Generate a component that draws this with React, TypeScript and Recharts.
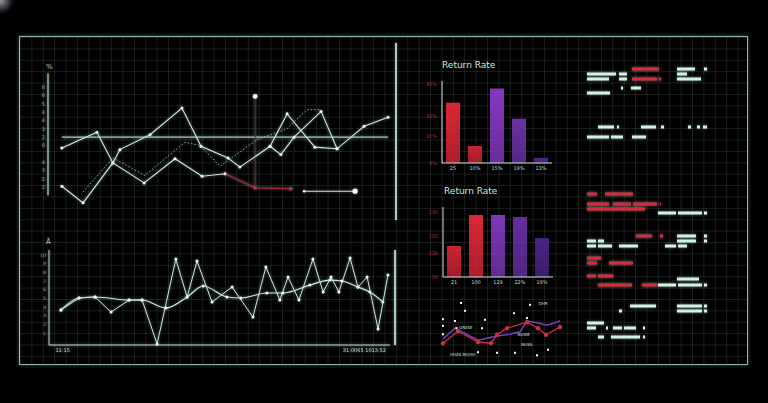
import React from "react";
import {
  LineChart,
  Line,
  XAxis,
  YAxis,
  ReferenceLine,
  ReferenceDot,
  BarChart,
  Bar,
  Cell,
  ComposedChart,
  Scatter,
} from "recharts";

// ---- upper trend panel (x: % of span, y: tick units) ----
const upperTicks = [3, 4, 5, 6, 8, 9, 10, 11, 12, 13, 14, 15];
const upperTickLabels = ["2", "2", "3", "4", "8", "2", "3", "4", "4", "5", "6", "8"];

const upperAX = [4.0, 14.1, 18.7, 27.7, 36.6, 44.4, 51.0];
const upperAY = [7.7, 9.6, 5.9, 3.5, 6.4, 4.3, 4.6];
const upperRedX = [51.0, 59.7, 70.0];
const upperRedY = [4.6, 2.9, 2.8];
const upperBX = [4.0, 10.1, 18.7, 20.7, 29.4, 38.6, 44.1, 51.9, 55.3, 64.0, 68.9, 76.9, 83.3, 91.1, 98.0];
const upperBY = [3.1, 1.1, 5.9, 7.5, 9.3, 12.5, 7.9, 6.5, 5.4, 7.9, 11.8, 7.8, 7.6, 10.3, 11.4];
const upperCX = [64.0, 67.1, 70.9, 78.7, 83.3];
const upperCY = [7.9, 6.9, 9.0, 12.1, 7.6];
const upperDotX = [10.1, 18.7, 27.9, 39.5, 43.8, 49.6, 60.2, 68.9, 74.6, 78.4];
const upperDotY = [2.4, 6.5, 4.4, 8.4, 8.0, 5.5, 8.7, 10.0, 12.3, 12.3];
const upperTailX = [73.8, 88.5];
const upperTailY = [2.5, 2.5];
const upperBaseline = 9.0;
const upperMarkerX = 59.7;
const upperMarkerTop = 13.9;

// ---- lower trend panel ----
const lowerTicks = [1, 2, 3, 4, 5, 6, 7, 8, 9, 10];
const lowerXTicks = [4, 92.5];
const lowerXLabels = ["11:15", "31:0065 1013:52"];
const lowerJagX = [3.5, 8.8, 13.5, 18.2, 23.5, 27.3, 31.7, 37.2, 40.5, 43.4, 47.8, 53.7, 59.8, 63.6, 67.7, 70.1, 73.3, 77.4, 80.4, 82.7, 85.0, 88.3, 90.6, 93.3, 96.5, 99.4];
const lowerJagY = [3.65, 5.04, 5.16, 3.42, 4.81, 4.81, -0.28, 9.55, 5.16, 9.32, 4.58, 6.31, 2.84, 8.63, 4.81, 7.47, 4.81, 9.55, 5.73, 7.47, 5.73, 9.67, 6.31, 7.47, 1.45, 7.7];
const lowerSmoothX = [3.5, 8.8, 13.5, 23.5, 27.3, 34.3, 40.5, 45.2, 52.2, 56.3, 63.9, 68.6, 76.5, 82.4, 85.9, 90.6, 94.1, 97.9];
const lowerSmoothY = [3.65, 5.04, 5.16, 4.81, 4.81, 3.88, 5.16, 6.43, 5.16, 5.04, 5.62, 5.62, 6.54, 7.12, 7.01, 6.31, 5.73, 4.58];

// ---- return rate bars ----
const rate1Labels = ["25", "10%", "15%", "19%", "13%"];
const rate1Values = [29.4, 8.3, 36.3, 21.6, 2.5];
const rate1Colors = ["#dc2636", "#c92433", "#8638c2", "#6a31a6", "#54288a"];
const rate1Ticks = [0, 13, 23, 38.5];
const rate1TickLabels = ["0%", "20%", "30%", "40%"];

const rate2Labels = ["21", "100", "129", "22%", "19%"];
const rate2Values = [62, 124, 124, 120, 78];
const rate2Colors = ["#cc2432", "#dc2638", "#7b38ba", "#662ea2", "#4a2484"];
const rate2Ticks = [0, 48, 82, 130];
const rate2TickLabels = ["50", "120", "100", "130"];

// ---- mini scatter/line panel ----
const miniRedX = [2.4, 14.4, 30.4, 40.8, 45.6, 53.6, 69.6, 78.4, 84.8, 96];
const miniRedY = [2.8, 4.8, 3.0, 2.8, 4.2, 5.3, 6.3, 5.3, 4.2, 5.5];
const miniPurpleX = [2.4, 12, 30.4, 45.6, 56, 64, 69.6, 77.6, 85.6, 96];
const miniPurpleY = [3.5, 5.3, 3.3, 4.0, 4.3, 4.7, 6.5, 6.2, 5.8, 6.5];
const miniDotX = [2.4, 2.4, 2.4, 20, 12, 36, 33.6, 59.2, 69.6, 72, 30.4, 45.6, 60, 77.6, 86.4, 16.8];
const miniDotY = [6.8, 5.7, 4.3, 8.2, 6.5, 6.7, 5.3, 7.8, 7.0, 9.2, 1.3, 1.2, 1.2, 0.8, 1.7, 9.5];
const miniNotes = ["▪ ORASE", "NUSM", "NUSS", "HHAS MOHH", "DHR"];
const miniNoteX = [12, 62, 65, 8, 79];
const miniNoteY = [5.3, 4.2, 2.5, 0.8, 9.3];

// ---- coded readout rows: [line, from, to] ----
const readoutMint = [
  [9, 97, 115], [9, 124, 127],
  [14, 7, 36], [14, 39, 47], [14, 97, 107],
  [19, 7, 29], [19, 39, 47], [19, 97, 121],
  [28, 41, 43], [28, 51, 61],
  [33, 7, 30],
  [67, 18, 34], [67, 37, 39], [67, 61, 76], [67, 81, 84], [67, 108, 111], [67, 117, 120], [67, 123, 127],
  [77, 7, 29], [77, 31, 43], [77, 52, 66],
  [153, 78, 96], [153, 98, 122], [153, 124, 127],
  [176, 97, 116], [176, 124, 127],
  [181, 7, 16], [181, 18, 24], [181, 97, 116], [181, 124, 127],
  [186, 7, 16], [186, 18, 32], [186, 39, 58], [186, 85, 96], [186, 98, 107],
  [219, 97, 119],
  [225, 78, 96], [225, 98, 122], [225, 124, 127],
  [246, 50, 76], [246, 97, 122], [246, 124, 127],
  [251, 39, 42], [251, 97, 122], [251, 124, 127],
  [263, 7, 24],
  [268, 7, 16], [268, 26, 28], [268, 33, 42], [268, 44, 56], [268, 63, 65],
  [277, 18, 24], [277, 31, 60], [277, 63, 65],
];
const readoutRed = [
  [9, 52, 79],
  [19, 52, 77], [19, 79, 81],
  [134, 7, 17], [134, 25, 53],
  [144, 7, 29], [144, 33, 51], [144, 53, 77], [144, 80, 81],
  [149, 7, 65],
  [176, 56, 72], [176, 80, 83],
  [198, 7, 21],
  [203, 7, 17], [203, 29, 53],
  [216, 7, 16], [216, 18, 33],
  [225, 18, 52], [225, 62, 77],
];

const MINT = "#cde9dc";
const AXIS = "#b9d6c8";
const RED = "#dc283a";
const GLOW = "drop-shadow(0 0 1.5px rgba(200,255,230,0.5))";

const pts = (xs: number[], ys: number[]) => xs.map((x, i) => ({ x, y: ys[i] }));
const bars = (labels: string[], values: number[]) => labels.map((name, i) => ({ name, v: values[i] }));

const abs = (left: number, top: number, extra: React.CSSProperties = {}): React.CSSProperties => ({
  position: "absolute",
  left,
  top,
  ...extra,
});

const lineDot = { r: 1.5, fill: "#eefcf5", stroke: "none" };

function UpperPanel() {
  return (
    <div style={abs(34, 54, { filter: GLOW })}>
      <LineChart width={361} height={158} margin={{ top: 0, right: 0, bottom: 0, left: 0 }}>
        <XAxis type="number" dataKey="x" domain={[0, 100]} hide />
        <YAxis
          type="number"
          dataKey="y"
          domain={[0, 19]}
          width={14}
          ticks={upperTicks}
          interval={0}
          axisLine={false}
          tickLine={false}
          tickSize={0}
          tickMargin={3}
          tick={{ fontSize: 5, fill: "#7f9289", fontFamily: "DejaVu Sans" }}
          tickFormatter={(v: number) => upperTickLabels[upperTicks.indexOf(v)] ?? ""}
        />
        <ReferenceLine segment={[{ x: 0, y: 2 }, { x: 0, y: 16.7 }]} stroke={AXIS} strokeWidth={1.2} />
        <ReferenceLine segment={[{ x: 4, y: upperBaseline }, { x: 98, y: upperBaseline }]} stroke="#a3ccb9" strokeWidth={1.2} />
        <ReferenceLine
          segment={[{ x: upperMarkerX, y: 2.9 }, { x: upperMarkerX, y: upperMarkerTop }]}
          stroke="#5c2a3a"
          strokeWidth={1}
        />
        <Line data={pts(upperDotX, upperDotY)} dataKey="y" stroke="#86a99a" strokeWidth={1} strokeDasharray="1.5 2" dot={false} isAnimationActive={false} />
        <Line data={pts(upperRedX, upperRedY)} dataKey="y" stroke="#a8263c" strokeWidth={1.2} dot={{ r: 1.6, fill: "#d43048", stroke: "none" }} isAnimationActive={false} />
        <Line data={pts(upperAX, upperAY)} dataKey="y" stroke={MINT} strokeWidth={1.1} dot={lineDot} isAnimationActive={false} />
        <Line data={pts(upperBX, upperBY)} dataKey="y" stroke={MINT} strokeWidth={1.1} dot={lineDot} isAnimationActive={false} />
        <Line data={pts(upperCX, upperCY)} dataKey="y" stroke={MINT} strokeWidth={1.1} dot={lineDot} isAnimationActive={false} />
        <Line
          data={pts(upperTailX, upperTailY)}
          dataKey="y"
          stroke={MINT}
          strokeWidth={1.1}
          dot={(p: any) => <circle key={p.index} cx={p.cx} cy={p.cy} r={p.index === 1 ? 2.6 : 1.3} fill="#eefcf5" />}
          isAnimationActive={false}
        />
        <ReferenceDot x={upperMarkerX} y={upperMarkerTop} r={2.4} fill="#ffffff" stroke="none" />
      </LineChart>
    </div>
  );
}

function LowerPanel() {
  return (
    <div style={abs(37, 250, { filter: GLOW })}>
      <LineChart width={353} height={107} margin={{ top: 0, right: 0, bottom: 0, left: 0 }}>
        <XAxis
          type="number"
          dataKey="x"
          domain={[0, 100]}
          height={12}
          ticks={lowerXTicks}
          interval={0}
          stroke={AXIS}
          tickLine={false}
          tickSize={0}
          tickMargin={3}
          tick={{ fontSize: 5, fill: "#c2d4cb", fontFamily: "DejaVu Sans" }}
          tickFormatter={(v: number) => lowerXLabels[lowerXTicks.indexOf(v)] ?? ""}
        />
        <YAxis
          type="number"
          dataKey="y"
          domain={[-0.4, 10.6]}
          width={12}
          ticks={lowerTicks}
          interval={0}
          stroke={AXIS}
          tickLine={false}
          tickSize={0}
          tickMargin={3}
          tick={{ fontSize: 4.5, fill: "#7f9289", fontFamily: "DejaVu Sans" }}
        />
        <Line data={pts(lowerSmoothX, lowerSmoothY)} type="monotone" dataKey="y" stroke={MINT} strokeWidth={1.2} dot={lineDot} isAnimationActive={false} />
        <Line data={pts(lowerJagX, lowerJagY)} dataKey="y" stroke={MINT} strokeWidth={1} dot={lineDot} isAnimationActive={false} />
      </LineChart>
    </div>
  );
}

function RatePanel(props: {
  id: string;
  left: number;
  top: number;
  height: number;
  max: number;
  labels: string[];
  values: number[];
  colors: string[];
  ticks: number[];
  tickLabels: string[];
}) {
  const { id, left, top, height, max, labels, values, colors, ticks, tickLabels } = props;
  return (
    <div style={abs(left, top)}>
      <BarChart width={130} height={height} data={bars(labels, values)} margin={{ top: 0, right: 0, bottom: 0, left: 0 }} barSize={14}>
        <defs>
          {colors.map((c, i) => (
            <linearGradient key={i} id={`${id}-g${i}`} x1="0" y1="0" x2="0" y2="1">
              <stop offset="0%" stopColor={c} stopOpacity={1} />
              <stop offset="100%" stopColor={c} stopOpacity={0.78} />
            </linearGradient>
          ))}
        </defs>
        <XAxis
          dataKey="name"
          height={10}
          stroke="#cfe0d7"
          tickLine={false}
          tickSize={0}
          tickMargin={3}
          interval={0}
          tick={{ fontSize: 5, fill: "#c6d3cd", fontFamily: "DejaVu Sans" }}
        />
        <YAxis
          type="number"
          domain={[0, max]}
          width={20}
          ticks={ticks}
          interval={0}
          stroke="#cfe0d7"
          tickLine={false}
          tickSize={0}
          tickMargin={5}
          tick={{ fontSize: 5, fill: "#b0283a", fontFamily: "DejaVu Sans" }}
          tickFormatter={(v: number) => tickLabels[ticks.indexOf(v)] ?? ""}
        />
        <Bar dataKey="v" isAnimationActive={false}>
          {values.map((_, i) => (
            <Cell key={i} fill={`url(#${id}-g${i})`} />
          ))}
        </Bar>
      </BarChart>
    </div>
  );
}

function MiniPanel() {
  return (
    <div style={abs(440, 300)}>
      <ComposedChart width={125} height={60} margin={{ top: 0, right: 0, bottom: 0, left: 0 }}>
        <XAxis type="number" dataKey="x" domain={[0, 100]} hide />
        <YAxis type="number" dataKey="y" domain={[0, 10]} hide />
        <Line data={pts(miniPurpleX, miniPurpleY)} dataKey="y" stroke="#7440c8" strokeWidth={1.5} dot={false} isAnimationActive={false} />
        <Line data={pts(miniRedX, miniRedY)} dataKey="y" stroke="#d02e46" strokeWidth={1.3} dot={{ r: 2.2, fill: "#d02e46", stroke: "none" }} isAnimationActive={false} />
        <Scatter
          data={pts(miniDotX, miniDotY)}
          isAnimationActive={false}
          shape={(p: any) => <rect x={p.cx - 1} y={p.cy - 1} width={2} height={2} fill="#e8fff4" />}
        />
        <Scatter
          data={miniNotes.map((t, i) => ({ x: miniNoteX[i], y: miniNoteY[i], t }))}
          isAnimationActive={false}
          shape={(p: any) => (
            <text x={p.cx} y={p.cy} fontSize={4} fill="#cfe6da" fontFamily="DejaVu Sans" dominantBaseline="middle">
              {p.payload.t}
            </text>
          )}
        />
      </ComposedChart>
    </div>
  );
}

function ReadoutPanel() {
  const seg = (rows: number[][], color: string, tag: string) =>
    rows.map(([y, a, b], i) => (
      <Line
        key={tag + i}
        data={[{ x: a, y }, { x: b, y }]}
        dataKey="y"
        stroke={color}
        strokeWidth={3}
        strokeLinecap="butt"
        dot={false}
        isAnimationActive={false}
      />
    ));
  return (
    <div style={abs(580, 60, { filter: GLOW })}>
      <LineChart width={130} height={300} margin={{ top: 0, right: 0, bottom: 0, left: 0 }}>
        <XAxis type="number" dataKey="x" domain={[0, 130]} hide />
        <YAxis type="number" dataKey="y" domain={[0, 300]} reversed hide />
        {seg(readoutRed, RED, "r")}
        {seg(readoutMint, "#d4f2e3", "m")}
      </LineChart>
    </div>
  );
}

export default function App() {
  const title: React.CSSProperties = {
    fontFamily: "DejaVu Sans",
    fontSize: 9,
    lineHeight: "10px",
    color: "#cfe9dc",
    whiteSpace: "nowrap",
  };
  const glyph: React.CSSProperties = {
    fontFamily: "DejaVu Sans",
    fontSize: 7,
    lineHeight: "8px",
    color: "#b9d6c8",
  };
  return (
    <div style={{ position: "relative", width: 768, height: 403, background: "#000", overflow: "hidden" }}>
      <style>{"body{margin:0;background:#000}"}</style>
      <div
        style={abs(-12, -12, {
          width: 26,
          height: 26,
          borderRadius: "50%",
          background: "radial-gradient(circle, rgba(200,200,215,0.75) 0%, rgba(120,120,140,0.2) 55%, rgba(0,0,0,0) 75%)",
        })}
      />
      <div
        style={abs(19, 36, {
          width: 727,
          height: 327,
          border: "1px solid #8fb9a7",
          boxShadow: "0 0 4px rgba(140,200,170,0.45)",
          backgroundImage:
            "linear-gradient(to right, rgba(130,150,140,0.2) 1px, transparent 1px), linear-gradient(to bottom, rgba(130,150,140,0.2) 1px, transparent 1px)",
          backgroundSize: "11.4px 11.4px",
        })}
      />
      <div style={abs(395, 43, { width: 1.5, height: 177, background: "#a9c9ba", boxShadow: "0 0 3px rgba(170,220,200,0.5)" })} />
      <div style={abs(394, 250, { width: 1.5, height: 95, background: "#a9c9ba", boxShadow: "0 0 3px rgba(170,220,200,0.5)" })} />
      <div style={abs(46, 63, glyph)}>%</div>
      <div style={abs(46, 238, glyph)}>Å</div>

      <UpperPanel />
      <LowerPanel />

      <div style={abs(442, 60, title)}>Return Rate</div>
      <RatePanel id="r1" left={422} top={81} height={92} max={40} labels={rate1Labels} values={rate1Values} colors={rate1Colors} ticks={rate1Ticks} tickLabels={rate1TickLabels} />
      <div style={abs(444, 186, title)}>Return Rate</div>
      <RatePanel id="r2" left={423} top={207} height={80} max={140} labels={rate2Labels} values={rate2Values} colors={rate2Colors} ticks={rate2Ticks} tickLabels={rate2TickLabels} />

      <MiniPanel />
      <ReadoutPanel />
    </div>
  );
}
